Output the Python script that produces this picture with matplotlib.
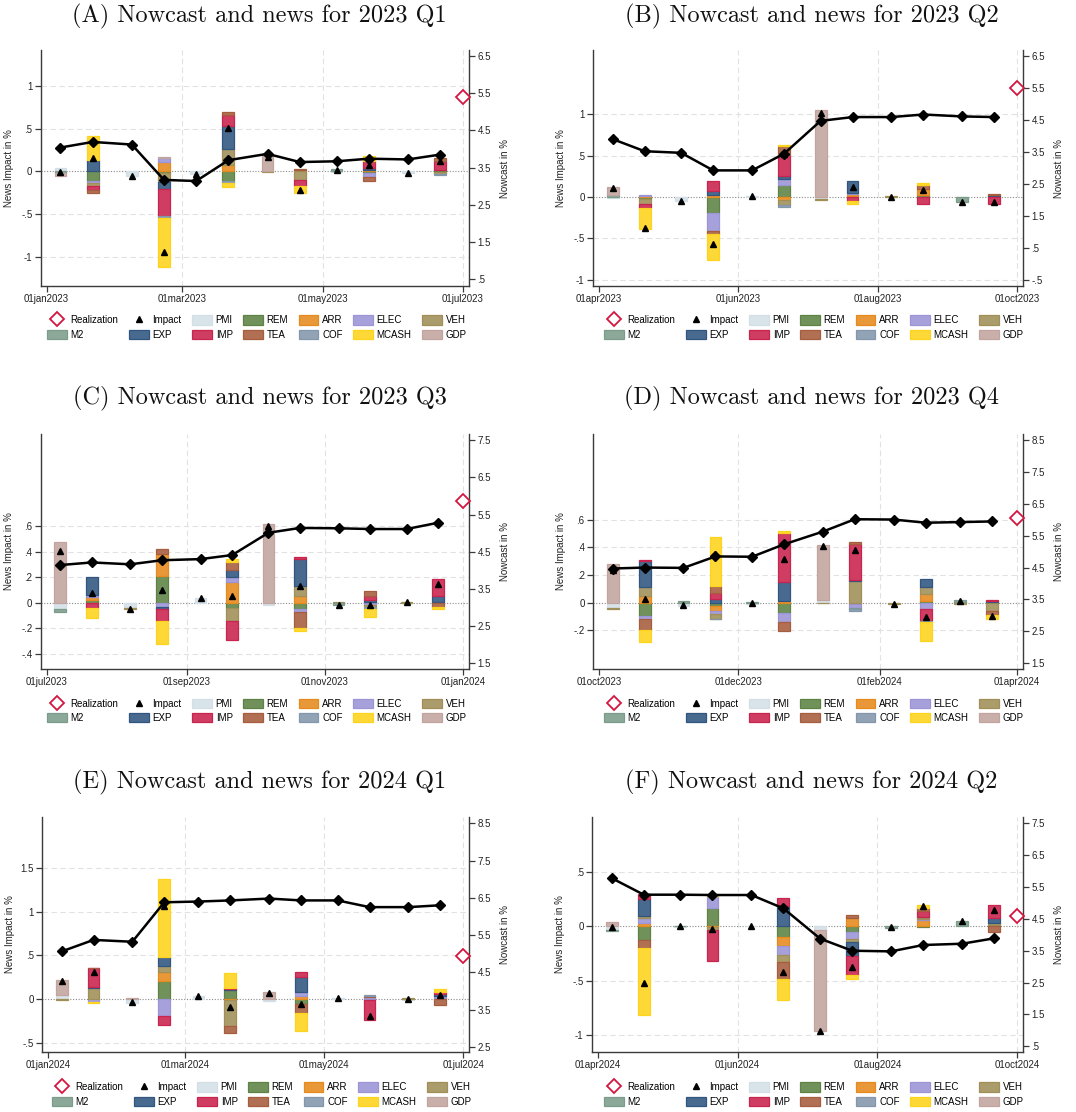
import datetime as dt
import numpy as np
import matplotlib
matplotlib.use("Agg")
import matplotlib.pyplot as plt
import matplotlib.dates as mdates
from matplotlib.patches import Patch
from matplotlib.lines import Line2D
from matplotlib import colors as mcolors

plt.rcParams["font.family"] = ["Liberation Sans", "DejaVu Sans"]

# ---------------------------------------------------------------- data
CATS = ["PMI", "REM", "ARR", "ELEC", "VEH", "M2", "EXP", "IMP", "TEA", "COF", "MCASH", "GDP"]

# (A) 2023 Q1 : releases on the 7th and 21st, Jan-Jun 2023
A_news = {
    "PMI":   [0.04, 0, -0.06, 0, -0.035, 0, 0, 0, -0.01, 0, -0.015, -0.01],
    "REM":   [0, -0.11, 0, -0.02, 0, -0.12, 0, 0, 0, -0.02, 0, 0.02],
    "ARR":   [0, 0, 0, 0.11, 0, 0.07, 0, 0.015, 0, 0.01, 0, 0],
    "ELEC":  [0, -0.03, 0, 0.04, 0, 0, 0, 0, 0, -0.05, 0, 0],
    "VEH":   [0, -0.03, 0, -0.11, 0, 0.19, -0.01, -0.10, 0, 0, 0, -0.02],
    "M2":    [-0.02, 0, 0, 0, 0, 0, 0, 0, 0.025, 0, 0, 0],
    "EXP":   [0, 0.13, 0, -0.08, 0, 0.27, 0, 0, 0, 0.03, 0, 0],
    "IMP":   [0, -0.05, 0, -0.32, 0, 0.13, 0, -0.07, 0, 0.08, 0, 0.10],
    "TEA":   [0, -0.04, 0, 0, 0, 0.03, 0, 0.01, 0, -0.04, 0, 0.04],
    "COF":   [0, 0, 0, -0.02, 0, -0.02, 0, 0, 0, 0, 0, -0.01],
    "MCASH": [0, 0.28, 0, -0.57, 0, -0.04, 0, -0.08, 0, 0.06, 0, 0],
    "GDP":   [-0.03, 0, 0, 0.02, 0, 0, 0.18, 0, 0, 0, 0, 0],
}
A_nowcast = [4.04, 4.19, 4.12, 3.17, 3.14, 3.70, 3.87, 3.65, 3.67, 3.74, 3.72, 3.85]
A_realization = 5.41

# (B) 2023 Q2 : Apr-Sep 2023
B_news = {
    "PMI":   [-0.01, 0, -0.045, 0, 0.01, 0, -0.02, 0, -0.005, 0, 0.005, 0],
    "REM":   [0, -0.02, 0, -0.19, 0, 0.14, 0, 0.01, 0, 0.02, 0, 0.01],
    "ARR":   [0, 0.01, 0, 0.02, 0, -0.04, 0, 0.03, 0, 0.08, 0, 0],
    "ELEC":  [0, 0.01, 0, -0.22, 0, 0.08, 0, 0.01, 0, 0, 0, 0],
    "VEH":   [0, -0.06, 0, 0, 0, -0.06, -0.01, 0, 0.01, 0, 0, 0],
    "M2":    [0.03, 0, 0, 0, 0, 0, 0, 0, 0, 0, -0.06, 0],
    "EXP":   [0, 0, 0, 0.05, 0, 0.04, 0, 0.15, 0, 0, 0, 0.01],
    "IMP":   [0, -0.05, 0, 0.12, 0, 0.25, 0, -0.05, 0, -0.09, 0, -0.09],
    "TEA":   [0, 0, 0, -0.04, 0, 0.11, 0, 0, 0, 0.04, 0, 0.015],
    "COF":   [0, 0, 0, 0, 0, -0.02, 0, 0, 0, 0, 0, 0],
    "MCASH": [0, -0.26, 0, -0.31, 0, 0.015, 0, -0.03, 0, 0.03, 0, 0],
    "GDP":   [0.09, 0, 0, 0, 0, 0, 1.05, 0, 0, 0, 0, 0],
}
B_nowcast = [3.90, 3.52, 3.47, 2.92, 2.92, 3.44, 4.47, 4.59, 4.59, 4.67, 4.61, 4.59]
B_realization = 5.51

# (C) 2023 Q3 : Jul-Dec 2023
C_news = {
    "PMI":   [-0.05, 0, -0.04, 0, 0.035, 0, -0.02, 0, -0.005, 0, 0, 0],
    "REM":   [0, 0.02, 0, 0.21, 0, -0.04, 0, -0.05, 0, 0.005, 0, 0],
    "ARR":   [0, 0.025, 0, 0.17, 0, 0.16, 0, 0.05, 0, -0.005, 0, 0],
    "ELEC":  [0, 0.015, 0, -0.035, 0, 0.04, 0, -0.02, 0, -0.01, 0, 0.01],
    "VEH":   [0, 0, -0.005, 0, 0, -0.10, 0, 0.08, 0.005, -0.02, 0.008, 0],
    "M2":    [-0.02, 0, 0, 0, 0, 0, 0, 0, -0.015, 0, 0, 0],
    "EXP":   [0, 0.14, 0, -0.01, 0, 0.06, 0, 0.21, 0, 0.015, 0, 0.04],
    "IMP":   [0, -0.04, 0, -0.095, 0, -0.15, 0, 0.015, 0, 0.03, 0, 0.14],
    "TEA":   [0, 0, 0, 0.04, 0, 0.06, 0, -0.13, 0, 0.045, 0, -0.035],
    "COF":   [0, 0, 0, 0, 0, 0, 0, 0, 0, -0.01, 0, 0],
    "MCASH": [0, -0.08, 0, -0.18, 0, 0.02, 0, -0.02, 0, -0.065, 0, -0.01],
    "GDP":   [0.475, 0, 0, 0, 0, 0, 0.62, 0, 0, 0, 0, 0],
}
C_nowcast = [4.14, 4.21, 4.16, 4.27, 4.30, 4.41, 5.01, 5.14, 5.13, 5.11, 5.11, 5.28]
C_realization = 5.87

# (D) 2023 Q4 : Oct 2023 - Mar 2024
D_news = {
    "PMI":   [-0.04, 0, -0.025, 0, -0.01, 0, 0.02, 0, 0, 0, 0, 0],
    "REM":   [0, -0.095, 0, -0.02, 0, -0.075, 0, -0.01, 0, 0.015, 0.005, 0.005],
    "ARR":   [0, 0.05, 0, -0.04, 0, 0.01, 0, 0, 0, 0.05, 0, 0],
    "ELEC":  [0, -0.025, 0, -0.02, 0, -0.065, 0, -0.025, 0, -0.045, 0, 0],
    "VEH":   [-0.005, 0.06, 0, -0.035, 0, 0, -0.005, 0.155, -0.008, 0.045, -0.008, -0.06],
    "M2":    [0, 0, 0.01, 0, 0.005, 0, 0, -0.01, 0, 0, 0.015, 0],
    "EXP":   [0, 0.19, 0, 0.03, 0, 0.14, 0, 0.01, 0, 0.06, 0, 0.01],
    "IMP":   [0, 0.01, 0, 0.04, 0, 0.35, 0, 0.255, 0, -0.085, 0, 0.008],
    "TEA":   [0, -0.08, 0, 0.05, 0, -0.065, 0, 0.02, 0, 0, 0, -0.03],
    "COF":   [0, 0, 0, -0.005, 0, 0, 0, -0.015, 0, -0.01, 0, 0],
    "MCASH": [0, -0.085, 0, 0.355, 0, 0.02, 0, 0, 0, -0.135, 0, -0.03],
    "GDP":   [0.28, 0, 0, 0, 0, 0, 0.395, 0, 0, 0, 0, 0],
}
D_nowcast = [4.47, 4.50, 4.49, 4.85, 4.84, 5.23, 5.63, 6.02, 6.01, 5.91, 5.93, 5.95]
D_realization = 6.05

# (E) 2024 Q1 : Jan-Jun 2024
E_news = {
    "PMI":   [0.04, 0, -0.045, 0, 0.03, 0, -0.02, 0, 0.01, 0, -0.01, 0],
    "REM":   [0, 0.005, 0, 0.21, 0, 0.10, 0, -0.06, 0, -0.015, 0, 0.01],
    "ARR":   [0, 0, 0, 0.10, 0, -0.01, 0, 0.03, 0, 0, 0, 0],
    "ELEC":  [0, -0.035, 0, -0.19, 0, 0, 0, 0.05, 0, 0.025, 0, 0.02],
    "VEH":   [-0.01, 0.125, 0, 0.07, 0, -0.30, 0, 0, 0, 0, 0.01, 0],
    "M2":    [0, 0, 0, 0, 0, 0, 0, 0, 0, 0, 0, 0],
    "EXP":   [0, 0.01, 0, 0.10, 0, 0.02, 0, 0.17, 0, 0, 0, 0.03],
    "IMP":   [0, 0.21, 0, -0.11, 0, 0.01, 0, 0.06, 0, -0.22, 0, 0.015],
    "TEA":   [0, 0.01, 0, 0, 0, -0.08, 0, -0.10, 0, 0.01, 0, -0.065],
    "COF":   [0, 0, 0, 0, 0, 0, 0, 0, 0, 0.01, 0, 0],
    "MCASH": [0, -0.015, 0, 0.89, 0, 0.17, 0, -0.21, 0, 0, 0, 0.04],
    "GDP":   [0.18, 0, 0.01, 0, 0, 0, 0.085, 0, 0, 0, 0, 0],
}
E_nowcast = [5.06, 5.37, 5.32, 6.38, 6.40, 6.43, 6.48, 6.43, 6.43, 6.25, 6.25, 6.30]
E_realization = 4.94

# (F) 2024 Q2 : Apr-Sep 2024
F_news = {
    "PMI":   [-0.03, 0, -0.005, 0, 0.005, 0, -0.03, 0, 0.005, 0, 0, 0],
    "REM":   [0, -0.13, 0, 0.17, 0, -0.10, 0, -0.055, 0, -0.01, 0, 0.01],
    "ARR":   [0, 0.03, 0, -0.01, 0, -0.08, 0, 0.075, 0, 0.06, 0, 0],
    "ELEC":  [0, 0.05, 0, 0.11, 0, -0.08, 0, -0.065, 0, 0.01, 0, 0],
    "VEH":   [0, 0.015, 0, -0.025, 0, -0.07, 0, -0.025, 0, 0.015, 0, 0.02],
    "M2":    [-0.015, 0, 0.005, 0, 0, 0, 0, 0, -0.015, 0, 0.045, 0],
    "EXP":   [0, 0.155, 0, 0, 0, 0.19, 0, -0.125, 0, 0.005, 0, 0.05],
    "IMP":   [0, 0.05, 0, -0.28, 0, 0.07, 0, -0.175, 0, 0.05, 0, 0.12],
    "TEA":   [0, -0.07, 0, 0, 0, -0.15, 0, 0.03, 0, 0.03, 0, -0.05],
    "COF":   [0, 0, 0, 0, 0, 0, 0, 0, 0, 0, 0, 0],
    "MCASH": [0, -0.62, 0, 0.015, 0, -0.20, 0, -0.035, 0, 0.03, 0, 0],
    "GDP":   [0.04, 0, 0, 0, 0, 0, -0.93, 0, 0, 0, 0, 0],
}
F_nowcast = [5.78, 5.26, 5.26, 5.25, 5.25, 4.83, 3.88, 3.50, 3.48, 3.68, 3.72, 3.89]
F_realization = 4.58

# ---------------------------------------------------------------- style
EDGE = {
    "PMI": "#d3dfe7", "REM": "#5e8243", "ARR": "#e68a1e", "ELEC": "#9b94d6",
    "VEH": "#a08f57", "M2": "#7c9c8b", "EXP": "#305680", "IMP": "#c8244d",
    "TEA": "#a65d3d", "COF": "#8297ab", "MCASH": "#fdd31c", "GDP": "#c2a49e",
}


def lighten(c, a=0.88):
    r, g, b = mcolors.to_rgb(c)
    return (r * a + (1 - a), g * a + (1 - a), b * a + (1 - a))


FILL = {k: lighten(v) for k, v in EDGE.items()}

W, H = 1076, 1112
BAR_W = 5.2          # days
SPINE = "#3a3a3a"
GRID = "#e2e2e2"
TXT = 7


def rect(left, top, right, bottom):
    return [left / W, 1 - bottom / H, (right - left) / W, (bottom - top) / H]


def stata_num(v):
    s = f"{v:g}"
    if s.startswith("0."):
        s = s[1:]
    elif s.startswith("-0."):
        s = "-" + s[2:]
    return s


def month_shift(d, k):
    m = d.month - 1 + k
    return dt.date(d.year + m // 12, m % 12 + 1, 1)


def panel(fig, box, title, title_xy, start, news, nowcast, realization,
          ylim, yticks, rlim, rticks, legend_xy):
    ax = fig.add_axes(rect(*box))
    ax2 = ax.twinx()

    release = [dt.date(month_shift(start, k).year, month_shift(start, k).month, d)
               for k in range(6) for d in (7, 21)]
    x = mdates.date2num(release)
    xt_dates = [month_shift(start, k) for k in (0, 2, 4, 6)]
    xt = mdates.date2num(xt_dates)
    ax.set_xlim(xt[0] - 2.6, xt[-1] + 2.6)

    # grid
    yt = np.round(np.arange(yticks[0], yticks[1] + 1e-9, yticks[2]), 6)
    for v in yt:
        if abs(v) > 1e-9:
            ax.axhline(v, color=GRID, lw=0.8, dashes=(5, 3), zorder=0)
    for v in xt[1:]:
        ax.axvline(v, color=GRID, lw=0.8, dashes=(5, 3), zorder=0)
    ax.axhline(0, color="#8a8a8a", lw=0.8, ls=(0, (1, 1.5)), zorder=1)

    # stacked news contributions: positives upward, negatives downward
    pos = np.zeros(len(x))
    neg = np.zeros(len(x))
    for cat in CATS:
        vals = np.asarray(news[cat], float)
        up = vals >= 0
        bottom = np.where(up, pos, neg)
        m = vals != 0
        ax.bar(x[m], vals[m], width=BAR_W, bottom=bottom[m],
               color=FILL[cat], edgecolor=EDGE[cat], linewidth=0.9, zorder=2)
        pos = pos + np.where(up, vals, 0)
        neg = neg + np.where(up, 0, vals)
    impact = sum(np.asarray(news[c], float) for c in CATS)
    ax.plot(x, impact, "^", color="black", ms=4.2, ls="none", zorder=5)
    ax.set_ylim(*ylim)
    ax.set_yticks(yt)
    ax.set_yticklabels([stata_num(v) for v in yt])

    # nowcast path and realised value on the right axis
    ax2.plot(x, nowcast, "-D", color="black", lw=1.8, ms=5.2, zorder=6)
    ax2.plot(xt[-1], realization, "D", mfc="white", mec="#d4163f",
             mew=1.3, ms=7.5, zorder=7, clip_on=False)
    rt = np.round(np.arange(rticks[0], rticks[1] + 1e-9, 1.0), 6)
    ax2.set_ylim(*rlim)
    ax2.set_yticks(rt)
    ax2.set_yticklabels([stata_num(v) for v in rt])

    ax.set_xticks(xt)
    ax.set_xticklabels([f"{d.day:02d}{d.strftime('%b').lower()}{d.year}" for d in xt_dates])

    for a in (ax, ax2):
        a.spines["top"].set_visible(False)
        a.tick_params(labelsize=TXT, colors="#222222", length=4, width=0.9,
                      pad=2, color=SPINE)
    ax.spines["right"].set_visible(False)
    ax2.spines["left"].set_visible(False)
    ax2.spines["bottom"].set_visible(False)
    for s in ("left", "bottom"):
        ax.spines[s].set_color(SPINE)
        ax.spines[s].set_linewidth(1.0)
    ax2.spines["right"].set_color(SPINE)
    ax2.spines["right"].set_linewidth(1.0)

    width_px = box[2] - box[0]
    ax.set_ylabel("News Impact in %", fontsize=TXT, color="#222222")
    ax.yaxis.set_label_coords(-27 / width_px, 0.5)
    ax2.set_ylabel("Nowcast in %", fontsize=TXT, color="#222222", rotation=90)
    ax2.yaxis.set_label_coords(1 + 31 / width_px, 0.5)

    fig.text(title_xy[0] / W, 1 - title_xy[1] / H, title, family="cmr10",
             fontsize=17.5, ha="center", va="center", color="#111111")

    # legend (column-major order so rows read like the key)
    h = {
        "Realization": Line2D([], [], marker="D", ls="none", mfc="white",
                              mec="#d4163f", mew=1.3, ms=7),
        "Impact": Line2D([], [], marker="^", ls="none", color="black", ms=4.2),
    }
    for c in CATS:
        h[c] = Patch(facecolor=FILL[c], edgecolor=EDGE[c], linewidth=0.9)
    row1 = ["Realization", "Impact", "PMI", "REM", "ARR", "ELEC", "VEH"]
    row2 = ["M2", "EXP", "IMP", "TEA", "COF", "MCASH", "GDP"]
    order = [lab for pair in zip(row1, row2) for lab in pair]
    fig.legend([h[k] for k in order], order, loc="center",
               bbox_to_anchor=(legend_xy[0] / W, 1 - legend_xy[1] / H),
               ncol=7, frameon=False, fontsize=TXT, handlelength=2.0,
               handleheight=1.05, handletextpad=0.4, columnspacing=1.1,
               labelspacing=0.45, borderpad=0)


fig = plt.figure(figsize=(W / 100, H / 100), dpi=100)

panel(fig, (40.7, 50, 469, 286), "(A) Nowcast and news for 2023 Q1", (259.5, 16),
      dt.date(2023, 1, 1), A_news, A_nowcast, A_realization,
      (-1.344, 1.42), (-1, 1, 0.5), (0.32, 6.66), (0.5, 6.5), (257, 327.5))
panel(fig, (593, 50, 1023, 286), "(B) Nowcast and news for 2023 Q2", (812, 16),
      dt.date(2023, 4, 1), B_news, B_nowcast, B_realization,
      (-1.077, 1.78), (-1, 1, 0.5), (-0.70, 6.69), (-0.5, 6.5), (814, 327.5))
panel(fig, (40.7, 434, 469, 669), "(C) Nowcast and news for 2023 Q3", (259.5, 398),
      dt.date(2023, 7, 1), C_news, C_nowcast, C_realization,
      (-0.519, 1.323), (-0.4, 0.6, 0.2), (1.34, 7.67), (1.5, 7.5), (257, 711))
panel(fig, (593, 434, 1023, 669), "(D) Nowcast and news for 2023 Q4", (812, 398),
      dt.date(2023, 10, 1), D_news, D_nowcast, D_realization,
      (-0.478, 1.217), (-0.2, 0.6, 0.2), (1.31, 8.70), (1.5, 8.5), (814, 711))
panel(fig, (42, 817, 469, 1052), "(E) Nowcast and news for 2024 Q1", (259.5, 782),
      dt.date(2024, 1, 1), E_news, E_nowcast, E_realization,
      (-0.607, 2.084), (-0.5, 1.5, 0.5), (2.36, 8.67), (2.5, 8.5), (262, 1094.5))
panel(fig, (592, 817, 1023, 1052), "(F) Nowcast and news for 2024 Q2", (811.5, 782),
      dt.date(2024, 4, 1), F_news, F_nowcast, F_realization,
      (-1.156, 1.006), (-1, 0.5, 0.5), (0.32, 7.70), (0.5, 7.5), (814, 1094.5))

fig.savefig("out.png", dpi=100)
